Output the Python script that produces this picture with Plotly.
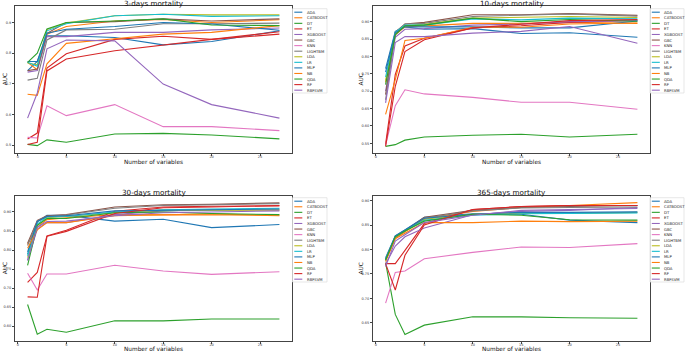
import plotly.graph_objects as go

W, H = 685, 352

N_VARS = [1, 2, 3, 5, 10, 15, 20, 27]
MODELS = ["ADA", "CATBOOST", "DT", "ET", "XGBOOST", "GBC", "KNN", "LIGHTBM",
          "LDA", "LR", "MLP", "NB", "QDA", "RF", "RBFSVM"]
COLORS = ["#1f77b4", "#ff7f0e", "#2ca02c", "#d62728", "#9467bd", "#8c564b",
          "#e377c2", "#7f7f7f", "#bcbd22", "#17becf", "#1f77b4", "#ff7f0e",
          "#2ca02c", "#d62728", "#9467bd"]
TITLES = ["3-days mortality", "10-days mortality", "30-days mortality", "365-days mortality"]

auc_3d = {
    "ADA":      [0.743, 0.773, 0.857, 0.857, 0.851, 0.827, 0.838, 0.873],
    "CATBOOST": [0.770, 0.746, 0.862, 0.887, 0.905, 0.910, 0.900, 0.909],
    "DT":       [0.502, 0.498, 0.517, 0.509, 0.536, 0.538, 0.533, 0.520],
    "ET":       [0.520, 0.539, 0.751, 0.798, 0.845, 0.855, 0.845, 0.870],
    "XGBOOST":  [0.738, 0.743, 0.854, 0.854, 0.868, 0.868, 0.876, 0.882],
    "GBC":      [0.743, 0.748, 0.865, 0.900, 0.903, 0.912, 0.905, 0.912],
    "KNN":      [0.525, 0.523, 0.628, 0.596, 0.632, 0.560, 0.560, 0.547],
    "LIGHTBM":  [0.712, 0.718, 0.843, 0.876, 0.878, 0.896, 0.896, 0.898],
    "LDA":      [0.768, 0.762, 0.877, 0.898, 0.922, 0.927, 0.925, 0.925],
    "LR":       [0.770, 0.757, 0.873, 0.896, 0.922, 0.927, 0.920, 0.922],
    "MLP":      [0.773, 0.773, 0.865, 0.878, 0.887, 0.900, 0.895, 0.875],
    "NB":       [0.666, 0.662, 0.765, 0.832, 0.847, 0.862, 0.868, 0.890],
    "QDA":      [0.770, 0.800, 0.879, 0.900, 0.905, 0.912, 0.892, 0.890],
    "RF":       [0.502, 0.509, 0.742, 0.781, 0.808, 0.827, 0.845, 0.862],
    "RBFSVM":   [0.588, 0.670, 0.814, 0.843, 0.840, 0.699, 0.632, 0.588],
}

auc_10d = {
    "ADA":      [0.765, 0.872, 0.885, 0.878, 0.880, 0.866, 0.868, 0.855],
    "CATBOOST": [0.725, 0.862, 0.885, 0.888, 0.895, 0.895, 0.898, 0.895],
    "DT":       [0.541, 0.546, 0.559, 0.568, 0.573, 0.576, 0.568, 0.576],
    "ET":       [0.548, 0.748, 0.830, 0.852, 0.882, 0.888, 0.898, 0.904],
    "XGBOOST":  [0.700, 0.855, 0.878, 0.880, 0.890, 0.893, 0.900, 0.903],
    "GBC":      [0.690, 0.870, 0.893, 0.898, 0.920, 0.920, 0.923, 0.918],
    "KNN":      [0.545, 0.658, 0.704, 0.692, 0.682, 0.668, 0.668, 0.648],
    "LIGHTBM":  [0.675, 0.865, 0.893, 0.895, 0.915, 0.918, 0.922, 0.916],
    "LDA":      [0.730, 0.868, 0.888, 0.892, 0.910, 0.912, 0.915, 0.912],
    "LR":       [0.740, 0.870, 0.890, 0.890, 0.908, 0.905, 0.910, 0.908],
    "MLP":      [0.755, 0.868, 0.885, 0.885, 0.885, 0.882, 0.882, 0.902],
    "NB":       [0.633, 0.733, 0.846, 0.852, 0.884, 0.884, 0.893, 0.896],
    "QDA":      [0.719, 0.862, 0.888, 0.890, 0.910, 0.900, 0.906, 0.901],
    "RF":       [0.541, 0.714, 0.814, 0.848, 0.882, 0.893, 0.903, 0.906],
    "RBFSVM":   [0.666, 0.840, 0.857, 0.857, 0.867, 0.872, 0.886, 0.838],
}

auc_30d = {
    "ADA":      [0.789, 0.874, 0.891, 0.891, 0.876, 0.881, 0.859, 0.867],
    "CATBOOST": [0.815, 0.860, 0.880, 0.885, 0.893, 0.893, 0.893, 0.892],
    "DT":       [0.657, 0.579, 0.592, 0.584, 0.614, 0.614, 0.619, 0.619],
    "ET":       [0.715, 0.741, 0.837, 0.852, 0.902, 0.913, 0.915, 0.916],
    "XGBOOST":  [0.773, 0.855, 0.872, 0.872, 0.893, 0.903, 0.905, 0.906],
    "GBC":      [0.818, 0.878, 0.890, 0.893, 0.913, 0.919, 0.920, 0.924],
    "KNN":      [0.739, 0.695, 0.737, 0.737, 0.760, 0.745, 0.736, 0.743],
    "LIGHTBM":  [0.812, 0.875, 0.888, 0.892, 0.910, 0.917, 0.919, 0.922],
    "LDA":      [0.780, 0.865, 0.885, 0.888, 0.898, 0.905, 0.905, 0.905],
    "LR":       [0.785, 0.868, 0.887, 0.888, 0.900, 0.906, 0.908, 0.910],
    "MLP":      [0.795, 0.875, 0.888, 0.890, 0.903, 0.905, 0.907, 0.908],
    "NB":       [0.805, 0.853, 0.872, 0.872, 0.890, 0.892, 0.895, 0.890],
    "QDA":      [0.760, 0.865, 0.883, 0.883, 0.898, 0.900, 0.896, 0.893],
    "RF":       [0.677, 0.676, 0.836, 0.849, 0.896, 0.911, 0.913, 0.917],
    "RBFSVM":   [0.773, 0.860, 0.875, 0.876, 0.890, 0.898, 0.900, 0.903],
}

auc_365d = {
    "ADA":      [0.783, 0.828, 0.840, 0.866, 0.873, 0.872, 0.860, 0.855],
    "CATBOOST": [0.778, 0.823, 0.836, 0.862, 0.878, 0.886, 0.890, 0.896],
    "DT":       [0.773, 0.667, 0.626, 0.645, 0.662, 0.662, 0.660, 0.659],
    "ET":       [0.771, 0.771, 0.798, 0.853, 0.882, 0.888, 0.890, 0.890],
    "XGBOOST":  [0.770, 0.807, 0.826, 0.844, 0.871, 0.878, 0.880, 0.886],
    "GBC":      [0.778, 0.825, 0.838, 0.866, 0.880, 0.886, 0.888, 0.890],
    "KNN":      [0.690, 0.753, 0.756, 0.781, 0.794, 0.805, 0.804, 0.812],
    "LIGHTBM":  [0.778, 0.825, 0.837, 0.864, 0.879, 0.885, 0.886, 0.887],
    "LDA":      [0.780, 0.826, 0.838, 0.862, 0.872, 0.874, 0.874, 0.876],
    "LR":       [0.780, 0.826, 0.839, 0.860, 0.870, 0.873, 0.874, 0.875],
    "MLP":      [0.780, 0.828, 0.840, 0.864, 0.872, 0.876, 0.876, 0.877],
    "NB":       [0.775, 0.822, 0.833, 0.855, 0.855, 0.858, 0.857, 0.858],
    "QDA":      [0.778, 0.826, 0.838, 0.858, 0.872, 0.870, 0.861, 0.860],
    "RF":       [0.771, 0.717, 0.788, 0.850, 0.882, 0.888, 0.890, 0.890],
    "RBFSVM":   [0.765, 0.817, 0.830, 0.855, 0.870, 0.880, 0.882, 0.884],
}

PANELS = [auc_3d, auc_10d, auc_30d, auc_365d]

# panel geometry in pixels: (left, right, top, bottom)
BOXES = [(15, 292, 6, 153), (373, 650, 6, 153), (15, 292, 196, 341), (373, 650, 196, 341)]
YRANGES = [(0.474, 0.954), (0.522, 0.945), (0.561, 0.942), (0.6125, 0.9095)]
YTICKS = [
    ([0.5, 0.6, 0.7, 0.8, 0.9], ".1f"),
    ([0.55, 0.60, 0.65, 0.70, 0.75, 0.80, 0.85, 0.90], ".2f"),
    ([0.60, 0.65, 0.70, 0.75, 0.80, 0.85, 0.90], ".2f"),
    ([0.65, 0.70, 0.75, 0.80, 0.85, 0.90], ".2f"),
]
TITLE_Y = [3.6, 3.6, 192, 192]
XLABEL_Y = [161.8, 161.8, 349.0, 349.0]
YLABEL_X = [4.8, 360, 4.8, 360]
LEGEND_BOX = [(292.5, 327, 8.7, 93), (650, 684, 8.7, 93), (292.5, 327, 197.7, 282), (650, 684, 197.7, 282)]

FONT = "DejaVu Sans"


def px(x):
    return x / W


def py(y):
    return 1 - y / H


fig = go.Figure()
layout = dict(
    width=W, height=H, margin=dict(l=0, r=0, t=0, b=0),
    paper_bgcolor="white", plot_bgcolor="white", showlegend=False,
    font=dict(family=FONT, color="#222"),
)
annotations = []
shapes = []

for k, data in enumerate(PANELS):
    l, r, t, b = BOXES[k]
    sfx = "" if k == 0 else str(k + 1)
    xa, ya = "x" + sfx, "y" + sfx
    for name, color in zip(MODELS, COLORS):
        fig.add_trace(go.Scatter(
            x=N_VARS, y=data[name], mode="lines", name=name,
            line=dict(color=color, width=1.1),
            xaxis=xa, yaxis=ya, showlegend=False,
        ))
    axis_common = dict(
        showgrid=False, zeroline=False, showline=True, mirror=True,
        linecolor="#444", linewidth=1, ticks="outside", ticklen=2,
        tickwidth=0.6, tickcolor="#444",
        tickfont=dict(size=3.5, family=FONT, color="#333"),
    )
    layout["xaxis" + sfx] = dict(
        domain=[px(l), px(r)], range=[-0.3, 28.3], anchor=ya,
        tickvals=[0, 5, 10, 15, 20, 25], ticklabelstandoff=-2, **axis_common,
    )
    tv, fmt = YTICKS[k]
    layout["yaxis" + sfx] = dict(
        domain=[py(b), py(t)], range=list(YRANGES[k]), anchor=xa,
        tickvals=tv, tickformat=fmt, **axis_common,
    )
    cx = (l + r) / 2
    annotations.append(dict(
        text=TITLES[k], x=px(cx), y=py(TITLE_Y[k]), xref="paper", yref="paper",
        xanchor="center", yanchor="middle", showarrow=False,
        font=dict(size=7.2, family=FONT, color="#111"),
    ))
    annotations.append(dict(
        text="Number of variables", x=px(cx), y=py(XLABEL_Y[k]), xref="paper", yref="paper",
        xanchor="center", yanchor="middle", showarrow=False,
        font=dict(size=5.8, family=FONT, color="#111"),
    ))
    annotations.append(dict(
        text="AUC", x=px(YLABEL_X[k]), y=py((t + b) / 2), xref="paper", yref="paper",
        xanchor="center", yanchor="middle", showarrow=False, textangle=-90,
        font=dict(size=5.8, family=FONT, color="#111"),
    ))
    # legend
    lx0, lx1, ly0, ly1 = LEGEND_BOX[k]
    shapes.append(dict(
        type="rect", xref="paper", yref="paper",
        x0=px(lx0), x1=px(lx1), y0=py(ly1), y1=py(ly0),
        line=dict(color="#dddddd", width=0.7), fillcolor="rgba(255,255,255,0.8)",
    ))
    for i, (name, color) in enumerate(zip(MODELS, COLORS)):
        yy = ly0 + 3.5 + i * 5.57
        shapes.append(dict(
            type="line", xref="paper", yref="paper",
            x0=px(lx0 + 1.8), x1=px(lx0 + 9.8), y0=py(yy), y1=py(yy),
            line=dict(color=color, width=1.1),
        ))
        annotations.append(dict(
            text=name, x=px(lx0 + 12.2), y=py(yy), xref="paper", yref="paper",
            xanchor="left", yanchor="middle", showarrow=False,
            font=dict(size=3.8, family=FONT, color="#222"),
        ))

layout["annotations"] = annotations
layout["shapes"] = shapes
fig.update_layout(**layout)
fig.write_html(
    "out.html",
    config={"displayModeBar": False},
    post_script="document.documentElement.style.margin='0';document.body.style.margin='0';"
                "document.body.style.overflow='hidden';document.documentElement.style.overflow='hidden';",
)
